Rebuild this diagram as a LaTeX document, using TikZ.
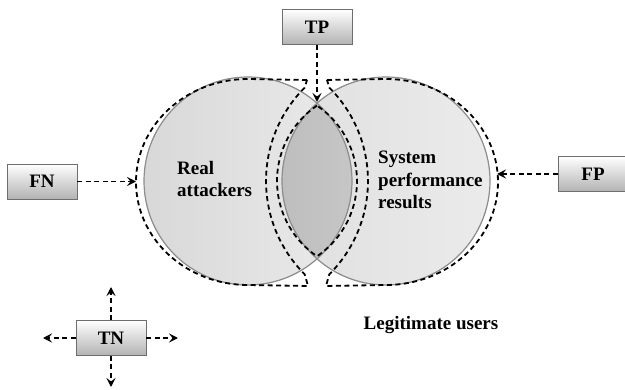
\documentclass[tikz,border=0pt]{standalone}
\usepackage{fontspec}
\setmainfont{Liberation Serif}
\usetikzlibrary{arrows.meta}
\definecolor{ringline}{HTML}{8C8C8C}
\definecolor{boxline}{HTML}{6E6E6E}
\definecolor{setleft}{HTML}{D8D8D8}
\definecolor{setright}{HTML}{EBEBEB}
\definecolor{lensleft}{HTML}{BEBEBE}
\definecolor{lensright}{HTML}{D6D6D6}
\begin{document}
\begin{tikzpicture}[x=1pt, y=1pt,
    box/.style = {draw = boxline, line width = 0.9pt, top color = white, bottom color = black!30,
        minimum width = 70pt, minimum height = 35pt, inner sep = 0pt,
        font = \bfseries\fontsize{19}{22}\selectfont},
    dashline/.style = {line width = 1.8pt, dash pattern = on 5pt off 3.5pt},
    arr/.style = {dashline, -{Stealth[length = 9pt, width = 9pt, inset = 3.5pt]}},
    lbl/.style = {align = left, inner sep = 0pt, font = \bfseries\fontsize{19}{22.5}\selectfont}]
    \useasboundingbox (0,0) rectangle (625,389);

    %Sets
    \fill [left color = setleft, right color = setright] (248,208) circle (104);
    \fill [left color = setleft!60!setright, right color = setright] (386,208) circle (104);
    \begin{scope}
        \clip (248,208) circle (104);
        \fill [left color = lensleft, right color = lensright] (386,208) circle (104);
    \end{scope}
    \draw [ringline, line width = 1.2pt] (248,208) circle (104);
    \draw [ringline, line width = 1.2pt] (386,208) circle (104);

    %FN region
    \draw [dashline] (307,309) -- (248,310)
        arc [start angle = 90, end angle = 270, x radius = 112, y radius = 103]
        -- (308,103) -- (304.7,114.7)
        arc [start angle = 225, end angle = 135, radius = 132] -- cycle;
    %FP region
    \draw [dashline] (327,309) -- (386,310)
        arc [start angle = 90, end angle = -90, x radius = 112, y radius = 103]
        -- (326,103) -- (329.3,114.7)
        arc [start angle = -45, end angle = 45, radius = 132] -- cycle;
    %TP region
    \draw [dashline] (317,283.4)
        arc [start angle = 124.1, end angle = 235.9, radius = 91]
        arc [start angle = -55.9, end angle = 55.9, radius = 91] -- cycle;

    %Labels
    \node [lbl, anchor = west] (real) at (177,210) {Real\\attackers};
    \node [lbl, anchor = west] (sys) at (378,209) {System\\performance\\results};
    \node [lbl] (legit) at (431,64) {Legitimate users};

    %Boxes
    \node [box] (tp) at (317,362) {TP};
    \node [box] (fn) at (42,207.5) {FN};
    \node [box] (fp) at (593,215) {FP};
    \node [box] (tn) at (111,51) {TN};

    \coordinate (tpend) at (317,287);
    \coordinate (fnend) at (136,207.5);
    \coordinate (fpend) at (497,215);
    \coordinate (tnup) at (111,102);
    \coordinate (tndown) at (111,2);
    \coordinate (tnleft) at (43,51);
    \coordinate (tnright) at (178,51);

    \draw [arr] (tp) -- (tpend);
    \draw [arr] (fn) -- (fnend);
    \draw [arr] (fp) -- (fpend);
    \draw [arr] (tn) -- (tnup);
    \draw [arr] (tn) -- (tndown);
    \draw [arr] (tn) -- (tnleft);
    \draw [arr] (tn) -- (tnright);
\end{tikzpicture}
\end{document}
